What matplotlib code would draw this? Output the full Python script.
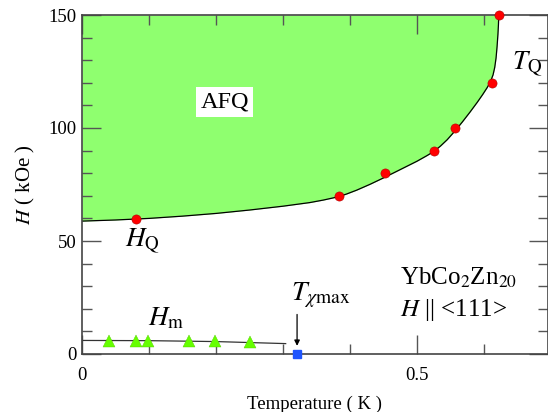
import matplotlib
matplotlib.use("Agg")
import matplotlib.pyplot as plt
from matplotlib.ticker import MultipleLocator, FixedLocator

plt.rcParams['font.family'] = ['Liberation Serif', 'DejaVu Serif']
plt.rcParams['mathtext.fontset'] = 'stix'

# Phase boundary T_Q(H) curve
curve_T = [0, 0.05, 0.1, 0.15, 0.2, 0.25, 0.3, 0.34, 0.36, 0.383, 0.395, 0.41,
           0.43, 0.452, 0.475, 0.50, 0.515, 0.525, 0.535, 0.545, 0.557, 0.568,
           0.579, 0.59, 0.598, 0.605, 0.610, 0.6135, 0.616, 0.618, 0.6195,
           0.6208, 0.6216, 0.622]
curve_H = [58.8, 59.3, 60.0, 61.0, 62.2, 63.7, 65.4, 67.0, 68.1, 69.6, 70.8, 72.5,
           75.1, 78.2, 81.6, 85.3, 87.8, 89.6, 92.0, 94.8, 98.8, 102.8,
           107.0, 111.4, 114.8, 118.0, 120.8, 123.5, 126.8, 131.0, 136.0,
           141.5, 146.0, 150.0]

# Data points
tq_T = [0.081, 0.383, 0.452, 0.525, 0.557, 0.612, 0.622]
tq_H = [59.7, 70, 80, 90, 100, 120, 150]

hm_T = [0.040, 0.080, 0.099, 0.160, 0.199, 0.250]
hm_H = [5.9, 5.9, 5.9, 5.9, 5.9, 5.4]
hm_line_T = [0, 0.1, 0.2, 0.304]
hm_line_H = [6.0, 5.9, 5.5, 4.6]

tchi_T = [0.321]
tchi_H = [0]

fig = plt.figure(figsize=(5.48, 4.12), dpi=100)
ax = fig.add_axes([82/548, 58/412, 0.695*670/548, 339/412])

ax.fill_between(curve_T, curve_H, 150, color='#8FFF6F', lw=0, zorder=1)
ax.plot(curve_T, curve_H, color='black', lw=0.9, zorder=2)
ax.plot(hm_line_T, hm_line_H, color='#333333', lw=0.9, zorder=2)

ax.plot(tq_T, tq_H, 'o', color='#FF0000', mec='#B00000', mew=0.4, ms=6.6,
        zorder=4, clip_on=False)
ax.plot(hm_T, hm_H, '^', color='#66FF00', mec='#55CC00', mew=0.3, ms=9, zorder=4)
ax.plot(tchi_T, tchi_H, 's', color='#1F55FF', mec='#1F55FF', ms=6.2, zorder=4,
        clip_on=False)

ax.set_xlim(0, 0.695)
ax.set_ylim(0, 150)
ax.xaxis.set_major_locator(FixedLocator([0, 0.5]))
ax.xaxis.set_minor_locator(MultipleLocator(0.1))
ax.yaxis.set_major_locator(MultipleLocator(50))
ax.yaxis.set_minor_locator(MultipleLocator(10))
ax.set_xticklabels(['0', '0.5'])
ax.tick_params(which='both', direction='in', top=True, right=True,
               color='#555555', labelsize=13.5)
ax.tick_params(axis='x', which='both', pad=9)
ax.tick_params(axis='y', which='both', pad=4)
ax.tick_params(which='major', length=14, width=1.0)
ax.tick_params(which='minor', length=7, width=1.0)
for s in ax.spines.values():
    s.set_color('#444444')
    s.set_linewidth(1.2)

ax.set_xlabel('Temperature ( K )', fontsize=13.5, labelpad=9)
ax.set_ylabel('$H$ ( kOe )', fontsize=15, labelpad=8)

ax.text(0.213, 111.5, 'AFQ', fontsize=17.5, ha='center', va='center',
        bbox=dict(facecolor='white', edgecolor='none', pad=3), zorder=5)
ax.text(0.091, 50, '$H_\\mathrm{Q}$', fontsize=19.5, ha='center', va='center')
ax.text(0.664, 128, '$T_\\mathrm{Q}$', fontsize=19.5, ha='center', va='center')
ax.text(0.126, 15.5, '$H_\\mathrm{m}$', fontsize=19.5, ha='center', va='center')
ax.text(0.312, 26, '$T_{\\chi\\mathrm{max}}$', fontsize=20, ha='left', va='center')
ax.text(0.4746, 33.6, 'YbCo$_2$Zn$_{20}$', fontsize=18, ha='left', va='center')
ax.text(0.4746, 19.5, '$H$ || <111>', fontsize=18, ha='left', va='center')
ax.annotate('', xy=(0.321, 3.6), xytext=(0.321, 17.5),
            arrowprops=dict(arrowstyle='-|>', color='black', lw=0.9,
                            mutation_scale=8, shrinkA=0, shrinkB=0))

fig.savefig('out.png', dpi=100)
